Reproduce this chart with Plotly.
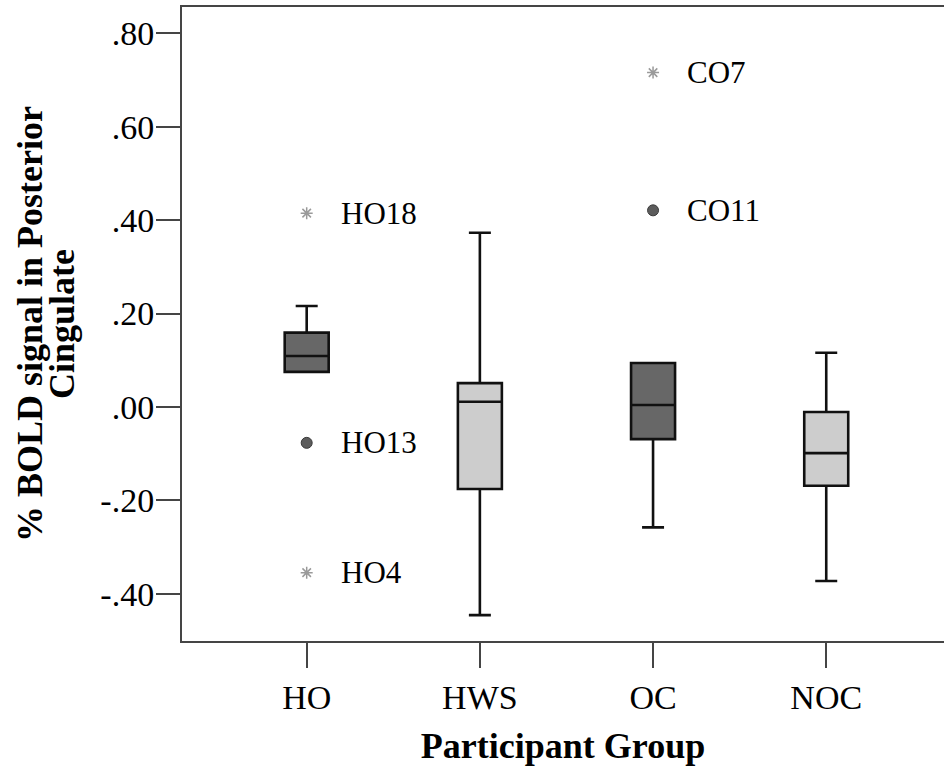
import plotly.graph_objects as go

# ---- data ----
groups = ["HO", "HWS", "OC", "NOC"]
q1 = [0.075, -0.176, -0.069, -0.169]
median = [0.109, 0.011, 0.004, -0.099]
q3 = [0.159, 0.051, 0.094, -0.011]
lower_whisker = [0.075, -0.446, -0.258, -0.373]
upper_whisker = [0.216, 0.373, 0.094, 0.116]
box_fill = ["#676767", "#cdcdcd", "#676767", "#cdcdcd"]

# outliers (circles = mild, stars = extreme)
circle_groups = ["HO", "OC"]
circle_values = [-0.077, 0.421]
circle_labels = ["HO13", "CO11"]
star_groups = ["HO", "HO", "OC"]
star_values = [0.415, -0.355, 0.716]
star_labels = ["HO18", "HO4", "CO7"]

y_tickvals = [-0.4, -0.2, 0.0, 0.2, 0.4, 0.6, 0.8]
y_ticktext = ["-.40", "-.20", ".00", ".20", ".40", ".60", ".80"]

y_title_lines = ["% BOLD signal in Posterior", "Cingulate"]
x_title = "Participant Group"

FONT = "Times New Roman"

fig = go.Figure()
for i, g in enumerate(groups):
    fig.add_trace(go.Box(
        x=[g], q1=[q1[i]], median=[median[i]], q3=[q3[i]],
        lowerfence=[lower_whisker[i]], upperfence=[upper_whisker[i]],
        fillcolor=box_fill[i],
        line=dict(color="#111111", width=2.6),
        width=0.254, whiskerwidth=0.5,
        boxpoints=False, showlegend=False, hoverinfo="skip",
    ))

fig.add_trace(go.Scatter(
    x=circle_groups, y=circle_values, mode="markers",
    marker=dict(symbol="circle", size=11, color="#5c5c5c",
                line=dict(color="#3a3a3a", width=1)),
    showlegend=False, hoverinfo="skip",
))
fig.add_trace(go.Scatter(
    x=star_groups, y=star_values, mode="markers",
    marker=dict(symbol="asterisk-open", size=10, color="#9a9a9a",
                line=dict(color="#9a9a9a", width=1.5)),
    showlegend=False, hoverinfo="skip",
))

for gx, gy, lab in list(zip(circle_groups, circle_values, circle_labels)) + \
        list(zip(star_groups, star_values, star_labels)):
    fig.add_annotation(
        x=gx, y=gy, text=lab, showarrow=False,
        xanchor="left", yanchor="middle", xshift=32,
        font=dict(family=FONT, size=31, color="black"),
    )

# y-axis title as two rotated lines (tight line spacing as in the reference)
for line_text, shift in zip(y_title_lines, [-152, -120]):
    fig.add_annotation(
        xref="paper", yref="paper", x=0, y=0.5, xshift=shift,
        text=line_text, textangle=-90, showarrow=False,
        xanchor="center", yanchor="middle",
        font=dict(family=FONT, size=36, color="black", weight="bold"),
    )

fig.update_layout(
    width=944, height=767,
    margin=dict(l=182, r=0, t=7, b=126),
    paper_bgcolor="white", plot_bgcolor="white",
    boxmode="overlay",
    font=dict(family=FONT, color="black"),
    xaxis=dict(
        type="category", categoryorder="array", categoryarray=groups,
        range=[-0.72, 3.68],
        showline=True, linecolor="#454545", linewidth=2, mirror=True,
        ticks="outside", ticklen=25, tickwidth=2, tickcolor="#454545",
        showgrid=False, zeroline=False,
        tickfont=dict(family=FONT, size=34, color="black"),
        title=dict(text=x_title,
                   font=dict(family=FONT, size=36, color="black", weight="bold"),
                   standoff=18),
    ),
    yaxis=dict(
        range=[-0.5014, 0.8565],
        showline=True, linecolor="#454545", linewidth=2,
        ticks="outside", ticklen=24, tickwidth=2, tickcolor="#454545",
        tickvals=y_tickvals, ticktext=y_ticktext, ticklabelstandoff=-5,
        showgrid=False, zeroline=False,
        tickfont=dict(family=FONT, size=34, color="black"),
    ),
)

fig.write_html("out.html")
